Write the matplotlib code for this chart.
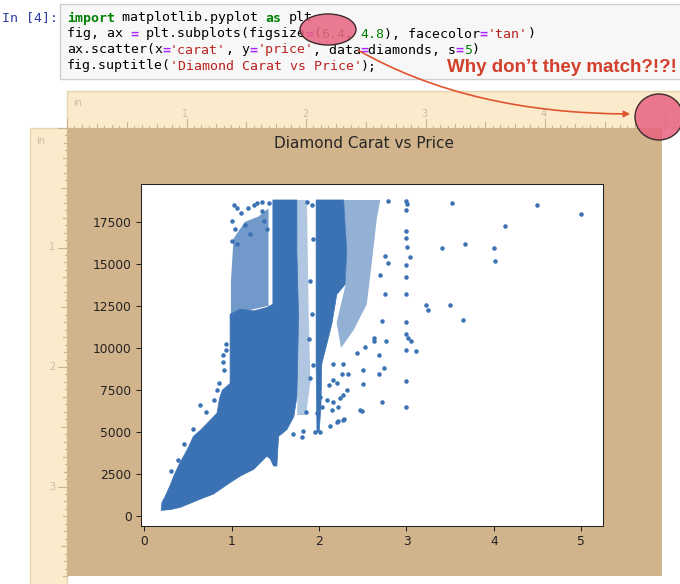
import matplotlib
matplotlib.use("Agg")
import matplotlib.pyplot as plt
from matplotlib.patches import Rectangle, Ellipse, FancyArrowPatch

W, H = 680, 584
BLUE = '#3a72b4'

# ---- values (carat, price) ----
# solid area where the dots overlap completely (carat < 1.8)
body_carat = [0.19, 0.20, 0.24, 0.30, 0.335, 0.40, 0.49, 0.56, 0.64, 0.72,
              0.83, 0.86, 0.89, 0.98, 0.98, 1.10, 1.25, 1.40, 1.47, 1.47,
              1.745, 1.745, 1.764, 1.745, 1.71, 1.63, 1.535, 1.516, 1.478, 1.44,
              1.40, 1.25, 1.10, 0.98, 0.79, 0.64, 0.41, 0.30]
body_price = [330, 800, 1200, 1900, 2380, 3100, 3950, 4730, 5100, 5520,
              6110, 7000, 7480, 7880, 12000, 12300, 12200, 12400, 12600, 18800,
              18800, 15730, 11800, 7090, 5910, 5130, 4730, 2970, 2970, 3400,
              3550, 2770, 2380, 1980, 1300, 1000, 510, 380]

# solid column of 2 carat stones
col2_carat = [1.965, 2.28, 2.316, 2.297, 2.202, 2.145, 2.088, 2.03, 2.02, 2.00, 1.975, 1.965]
col2_price = [18800, 18800, 15730, 13770, 13180, 11410, 10230, 9050, 6500, 5000, 5000, 9000]

# half covered areas
speck1_carat = [0.99, 0.99, 1.02, 1.15, 1.30, 1.42, 1.42]
speck1_price = [12000, 14000, 16500, 17500, 17800, 18300, 12500]
speck2_carat = [1.745, 1.86, 1.88, 1.90, 1.85, 1.75]
speck2_price = [18800, 18800, 12000, 8000, 6000, 6000]
speck3_carat = [2.28, 2.70, 2.66, 2.60, 2.545, 2.39, 2.25, 2.20, 2.30, 2.316]
speck3_price = [18800, 18800, 17700, 14950, 12590, 11020, 10000, 11500, 13700, 15730]

# single dots
a_carat = [1.02, 1.06, 1.00, 1.04, 1.00, 1.06, 1.15, 1.21, 1.29, 1.42, 1.345, 1.257,
           1.364, 1.40, 1.10, 1.18, 1.35]
a_price = [18520, 18320, 17540, 17050, 16360, 16160, 17340, 16750, 18620, 18620, 18130,
           18520, 17540, 17050, 18000, 18300, 18700]
b_carat = [0.90, 0.90, 0.914, 0.85, 0.83, 0.632, 0.93, 0.93, 0.80, 0.70, 0.55, 0.45, 0.38, 0.30]
b_price = [9130, 9580, 8700, 7910, 7520, 6580, 10200, 9900, 6900, 6200, 5200, 4300, 3300, 2700]
c_carat = [1.82, 1.80, 1.70, 1.85, 1.90, 1.93, 1.88, 1.92, 1.90, 1.93, 1.92, 1.86]
c_price = [5070, 4700, 4900, 6200, 8200, 9000, 10500, 12000, 14000, 16500, 18500, 18700]
d_carat = [2.164, 2.278, 2.259, 2.335, 2.164, 2.107, 2.202, 2.316, 2.278, 2.240, 2.164,
           2.088, 2.030, 1.973, 2.145, 2.21, 2.278, 2.22, 2.011, 1.954, 2.01, 2.126,
           2.20, 2.28, 2.47]
d_price = [9050, 9050, 8430, 8430, 8070, 7780, 7880, 7480, 7190, 6990, 6800,
           6890, 6500, 6110, 6300, 6500, 5720, 5620, 7090, 4970, 4970, 5360,
           5560, 5750, 6300]
e_carat = [2.79, 3.00, 3.01, 3.00, 3.516, 4.50, 5.00, 4.126, 3.00, 3.00,
           3.007, 3.406, 3.67, 4.004, 4.01, 2.754, 2.79, 3.04, 3.00, 2.70,
           3.00, 2.754, 3.00, 3.22, 3.25, 3.50, 3.65, 2.724, 3.00, 2.766,
           3.00, 3.02, 3.05, 3.00, 3.11, 2.68, 2.74, 2.68, 2.50, 2.50,
           3.00, 2.72, 3.00, 2.49, 2.43, 2.52, 2.63, 2.63]
e_price = [18740, 18740, 18580, 18190, 18640, 18480, 17990, 17260, 16950, 16520,
           16030, 15970, 16160, 15970, 15180, 15440, 15020, 15380, 14910, 14320,
           14200, 13180, 13220, 12550, 12260, 12550, 11670, 11570, 11510, 10430,
           10820, 10570, 10430, 9900, 9800, 9600, 8800, 8430, 8700, 7820,
           8030, 6800, 6500, 6270, 9680, 10080, 10430, 10610]

# notebook cell text: (text, colour, bold)
INK, KW, OP, NUM, STR = '#000000', '#008000', '#AA22FF', '#008000', '#BA2121'
code_lines = [
    [("import", KW, True), (" matplotlib.pyplot ", INK, False), ("as", KW, True), (" plt", INK, False)],
    [("fig, ax ", INK, False), ("=", OP, True), (" plt.subplots(figsize", INK, False), ("=", OP, True),
     ("(", INK, False), ("6.4", NUM, False), (", ", INK, False), ("4.8", NUM, False),
     ("), facecolor", INK, False), ("=", OP, True), ("'tan'", STR, False), (")", INK, False)],
    [("ax.scatter(x", INK, False), ("=", OP, True), ("'carat'", STR, False), (", y", INK, False),
     ("=", OP, True), ("'price'", STR, False), (", data", INK, False), ("=", OP, True),
     ("diamonds, s", INK, False), ("=", OP, True), ("5", NUM, False), (")", INK, False)],
    [("fig.suptitle(", INK, False), ("'Diamond Carat vs Price'", STR, False), (");", INK, False)],
]

fig = plt.figure(figsize=(W / 100, H / 100), dpi=100)
fig.patch.set_facecolor('white')

back = fig.add_axes([0, 0, 1, 1], zorder=0)
back.set_xlim(0, W)
back.set_ylim(H, 0)
back.axis('off')

# code cell
back.add_patch(Rectangle((60, 4), 640, 75, facecolor='#f7f7f7', edgecolor='#cfcfcf', lw=1))
back.text(2, 18, "In [4]:", family='DejaVu Sans Mono', fontsize=9.5, color='#303F9F',
          va='center', ha='left')
X0, CW = 66.7, 7.94
for row, tokens in enumerate(code_lines):
    col = 0
    for txt, c, bold in tokens:
        lead = len(txt) - len(txt.lstrip())
        back.text(X0 + (col + lead) * CW, 18 + row * 16, txt.lstrip(), color=c,
                  family='DejaVu Sans Mono', fontsize=9.5, va='center', ha='left',
                  fontweight='bold' if bold else 'normal')
        col += len(txt)

back.text(447, 67, "Why don\u2019t they match?!?!", family='Liberation Sans', fontweight='bold',
          fontsize=13.5, color='#d23f2b', va='center', ha='left')

# rulers
INCH = 119.5
RUL = '#fbeacb'
back.add_patch(Rectangle((67, 91), 620, 37, facecolor=RUL, edgecolor='#e6d6b4', lw=1))
back.add_patch(Rectangle((30, 128), 37, 470, facecolor=RUL, edgecolor='#e6d6b4', lw=1))
def tick_len(k):
    if k % 16 == 0:
        return 9
    if k % 8 == 0:
        return 6
    if k % 4 == 0:
        return 4
    if k % 2 == 0:
        return 3
    return 2
k = 0
while 67 + k * INCH / 16 < W:
    x = 67 + k * INCH / 16
    back.plot([x, x], [128 - tick_len(k), 128], color='#c9b592', lw=0.8)
    k += 1
k = 0
while 128 + k * INCH / 16 < H:
    y = 128 + k * INCH / 16
    back.plot([67 - tick_len(k), 67], [y, y], color='#c9b592', lw=0.8)
    k += 1
for n in range(1, 6):
    back.text(67 + n * INCH - 1, 114, str(n), fontsize=7, color='#c8bca6', ha='center', va='center')
for n in range(1, 4):
    back.text(52, 128 + n * INCH, str(n), fontsize=7, color='#c8bca6', ha='center', va='center')
back.text(78, 103, "in", fontsize=7, color='#c8bca6', ha='center', va='center')
back.text(41, 141, "in", fontsize=7, color='#c8bca6', ha='center', va='center')

# the tan figure
back.add_patch(Rectangle((67, 128), 595, 448, facecolor='tan', edgecolor='none', zorder=3))
back.text(364.5, 144, "Diamond Carat vs Price", fontsize=11, color='#262626',
          ha='center', va='center', zorder=4)

# scatter axes
ax = fig.add_axes([141 / W, 1 - 526 / H, 462 / W, 342 / H], zorder=1)
ax.set_facecolor('white')
for cx, cy, a in [(speck1_carat, speck1_price, 0.72), (speck2_carat, speck2_price, 0.4),
                  (speck3_carat, speck3_price, 0.55)]:
    ax.fill(cx, cy, color=BLUE, alpha=a, lw=0)
ax.fill(body_carat, body_price, color=BLUE, lw=0.5)
ax.fill(col2_carat, col2_price, color=BLUE, lw=0.5)
for cx, cy in [(a_carat, a_price), (b_carat, b_price), (c_carat, c_price),
               (d_carat, d_price), (e_carat, e_price)]:
    ax.scatter(cx, cy, s=5, color=BLUE, linewidths=1.0)
ax.set_xlim(-0.04, 5.25)
ax.set_ylim(-600, 19750)
ax.tick_params(labelsize=8.8, length=3.3, width=0.75, colors='#222222')
for sp in ax.spines.values():
    sp.set_linewidth(0.75)
    sp.set_color('#222222')

# annotations on top
front = fig.add_axes([0, 0, 1, 1], zorder=2)
front.set_xlim(0, W)
front.set_ylim(H, 0)
front.axis('off')
for (ex, ey, ew, eh) in [(328, 29.5, 56, 31), (659, 117, 48, 46)]:
    front.add_patch(Ellipse((ex, ey), ew, eh, facecolor=(0.91, 0.39, 0.50, 0.85),
                            edgecolor='#3b2b2b', lw=1))
front.add_patch(FancyArrowPatch((356, 49), (633, 114),
                                connectionstyle='angle3,angleA=-30,angleB=0',
                                arrowstyle='-|>', mutation_scale=9, color='#e0552f', lw=1.2))

fig.savefig('out.png', dpi=100)
